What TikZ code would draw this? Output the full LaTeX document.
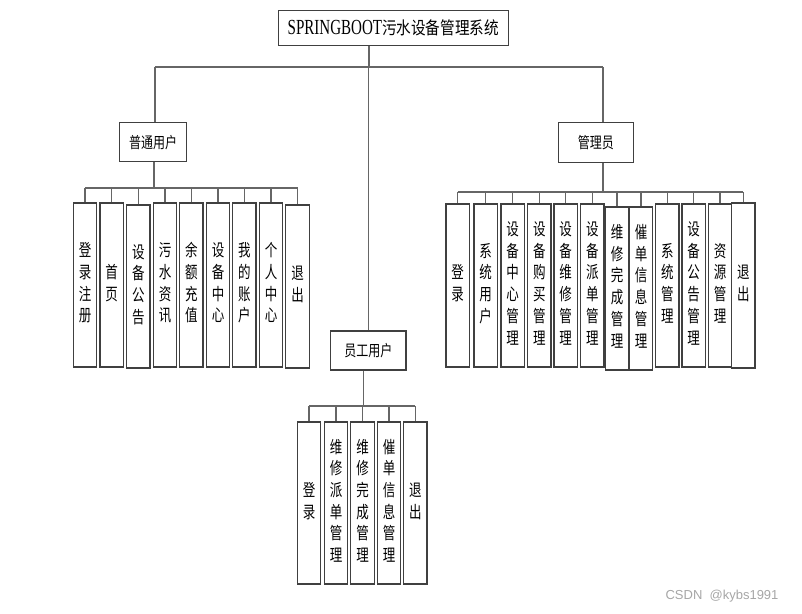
\documentclass[tikz,border=0pt]{standalone}
\usepackage{fontspec}
\usepackage{graphicx}
\setmainfont{Liberation Serif}
\newfontfamily\cjk{Noto Sans CJK SC}
\newfontfamily\wmfont{Liberation Sans}
\newcommand\vlab[1]{\scalebox{1}[1.35]{\cjk\fontsize{12.5}{16.07}\selectfont\begin{tabular}{@{}c@{}}#1\end{tabular}}}
\newcommand\hlab[1]{\scalebox{1}[1.3]{\cjk\fontsize{12}{13}\selectfont #1}}
\tikzset{
  box/.style={draw=black!75, line width=1.2pt, fill=white, inner sep=0pt},
  leaf/.style={box, minimum width=23.5pt},
  conn/.style={draw=black!60, line width=1.2pt},
}
\begin{document}
\begin{tikzpicture}[x=1pt,y=-1pt]
\useasboundingbox (0,0) rectangle (802,613);
% top level
\node[box, minimum width=230pt, minimum height=35pt] (root) at (393.3,28.2)
  {\scalebox{0.7}[1]{\fontsize{21.5}{21}\selectfont SPRINGBOOT}\scalebox{1}[1.2]{\cjk\fontsize{14.6}{15}\selectfont 污水设备管理系统}};
\node[box, minimum width=67.4pt, minimum height=39pt] (u) at (153,142.2) {\hlab{普通用户}};
\node[box, minimum width=75pt, minimum height=40pt] (m) at (595.8,142.7) {\hlab{管理员}};
\node[box, minimum width=75.3pt, minimum height=39pt] (e) at (368.3,350.5) {\hlab{员工用户}};
% bus coordinates
\coordinate (bL) at (155,67);
\coordinate (bR) at (603,67);
\coordinate (bM) at (369,67);
\coordinate (ub) at (154,188);
\coordinate (mb) at (603,192);
\coordinate (eb) at (363.3,406);
% user children
\node[leaf, minimum height=164pt] (u1) at (85,285) {\vlab{登\\录\\注\\册}};
\node[leaf, minimum height=164pt] (u2) at (111.7,285) {\vlab{首\\页}};
\node[leaf, minimum height=163pt] (u3) at (138.3,286.5) {\vlab{设\\备\\公\\告}};
\node[leaf, minimum height=164pt] (u4) at (165,285) {\vlab{污\\水\\资\\讯}};
\node[leaf, minimum height=164pt] (u5) at (191.3,285) {\vlab{余\\额\\充\\值}};
\node[leaf, minimum height=164pt] (u6) at (218,285) {\vlab{设\\备\\中\\心}};
\node[leaf, minimum height=164pt] (u7) at (244.3,285) {\vlab{我\\的\\账\\户}};
\node[leaf, minimum height=164pt] (u8) at (271,285) {\vlab{个\\人\\中\\心}};
\node[leaf, minimum height=163pt] (u9) at (297.5,286.5) {\vlab{退\\出}};
% admin children
\node[leaf, minimum height=163pt] (m1) at (457.7,285.5) {\vlab{登\\录}};
\node[leaf, minimum height=163pt] (m2) at (485.7,285.5) {\vlab{系\\统\\用\\户}};
\node[leaf, minimum height=163pt] (m3) at (512.7,285.5) {\vlab{设\\备\\中\\心\\管\\理}};
\node[leaf, minimum height=163pt] (m4) at (539.3,285.5) {\vlab{设\\备\\购\\买\\管\\理}};
\node[leaf, minimum height=163pt] (m5) at (565.7,285.5) {\vlab{设\\备\\维\\修\\管\\理}};
\node[leaf, minimum height=163pt] (m6) at (592.3,285.5) {\vlab{设\\备\\派\\单\\管\\理}};
\node[leaf, minimum height=163pt] (m7) at (617,288.5) {\vlab{维\\修\\完\\成\\管\\理}};
\node[leaf, minimum height=163pt] (m8) at (641,288.5) {\vlab{催\\单\\信\\息\\管\\理}};
\node[leaf, minimum height=163pt] (m9) at (667.3,285.5) {\vlab{系\\统\\管\\理}};
\node[leaf, minimum height=163pt] (m10) at (693.7,285.5) {\vlab{设\\备\\公\\告\\管\\理}};
\node[leaf, minimum height=163pt] (m11) at (720,285.5) {\vlab{资\\源\\管\\理}};
\node[leaf, minimum height=165pt] (m12) at (743.3,285.5) {\vlab{退\\出}};
% employee children
\node[leaf, minimum height=162pt] (e1) at (309,503) {\vlab{登\\录}};
\node[leaf, minimum height=162pt] (e2) at (336,503) {\vlab{维\\修\\派\\单\\管\\理}};
\node[leaf, minimum height=162pt] (e3) at (362.5,503) {\vlab{维\\修\\完\\成\\管\\理}};
\node[leaf, minimum height=162pt] (e4) at (389,503) {\vlab{催\\单\\信\\息\\管\\理}};
\node[leaf, minimum height=162pt] (e5) at (415.3,503) {\vlab{退\\出}};
% connectors top
\draw[conn] (root.south -| bM) -- (bM);
\draw[conn] (bL) -- (bR);
\draw[conn] (bL) -- (bL |- u.north);
\draw[conn] (bR) -- (bR |- m.north);
\draw[conn] (e.north |- bM) -- (e.north);
% user bus
\draw[conn] (u.south -| ub) -- (ub);
\draw[conn] (u1.north |- ub) -- (u9.north |- ub);
\foreach \i in {1,...,9} \draw[conn] (u\i.north |- ub) -- (u\i.north);
% admin bus
\draw[conn] (m.south -| mb) -- (mb);
\draw[conn] (m1.north |- mb) -- (m12.north |- mb);
\foreach \i in {1,...,12} \draw[conn] (m\i.north |- mb) -- (m\i.north);
% employee bus
\draw[conn] (e.south -| eb) -- (eb);
\draw[conn] (e1.north |- eb) -- (e5.north |- eb);
\foreach \i in {1,...,5} \draw[conn] (e\i.north |- eb) -- (e\i.north);
% watermark
\node[text=black!35, font=\wmfont\fontsize{13}{14}\selectfont, inner sep=0pt] (wm) at (722,596) {CSDN\ \ @kybs1991};
\end{tikzpicture}
\end{document}
